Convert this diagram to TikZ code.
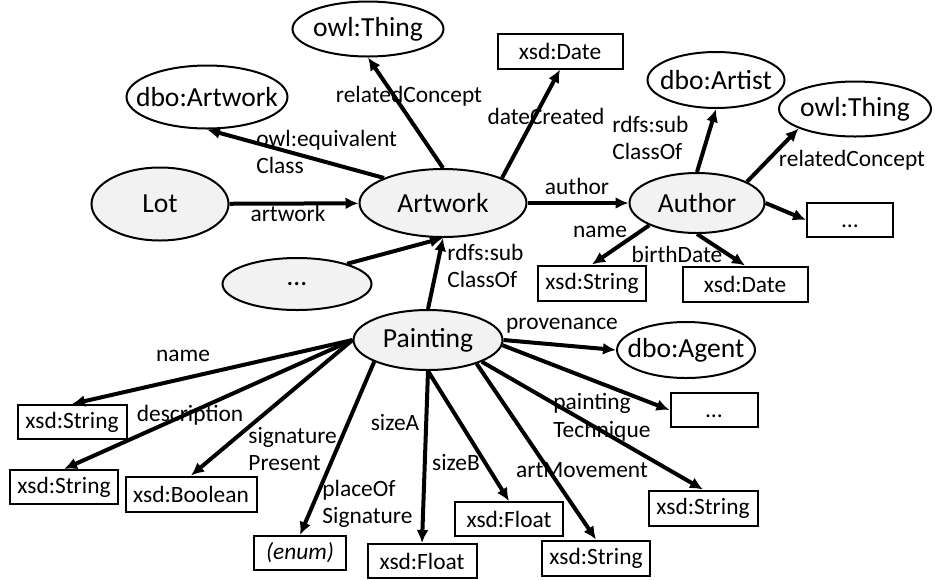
\documentclass[tikz,border=0pt]{standalone}
\usepackage{fontspec}
\setmainfont{Carlito}
\usetikzlibrary{shapes.geometric}
\usetikzlibrary{arrows.meta}
\newcommand{\ovaltext}[1]{\makebox[0pt]{#1}}
\tikzset{%
  cls/.style={ellipse,draw,line width=1pt,fill=gray!10,inner sep=0pt,font=\fontsize{13.8}{16}\selectfont},
  ext/.style={ellipse,draw,line width=1pt,fill=white,inner sep=0pt,font=\fontsize{13.8}{16}\selectfont},
  lit/.style={rectangle,draw,line width=1pt,inner sep=0pt,minimum height=17.5pt,font=\fontsize{11.7}{14}\selectfont},
  prop/.style={inner sep=0pt,align=left,font=\fontsize{11.7}{13.8}\selectfont},
  rel/.style={-{Latex[length=6.5pt,width=6pt]},line width=2pt}
}
\begin{document}
\begin{tikzpicture}[x=0.5pt,y=-0.5pt]%
\useasboundingbox (0,0) rectangle (935,579);%%
%%CLASSES
\node[cls,minimum width=68.5pt,minimum height=36.5pt] (lot) at (160,204) {\ovaltext{Lot}}; %%
\node[cls,minimum width=83.5pt,minimum height=34pt] (artwork) at (443,203) {\ovaltext{Artwork}}; %%
\node[cls,minimum width=67.5pt,minimum height=30pt] (author) at (697,203) {\ovaltext{Author}}; %%
\node[cls,minimum width=74.5pt,minimum height=26pt] (more) at (297,284) {\ovaltext{\dots}}; %%
\node[cls,minimum width=74.5pt,minimum height=30pt] (painting) at (428,340) {\ovaltext{Painting}}; %%
%%EXTERNAL CLASSES
\node[ext,minimum width=75.5pt,minimum height=27.5pt] (thing) at (368,29) {\ovaltext{owl:Thing}}; %%
\node[ext,minimum width=80.5pt,minimum height=31.5pt] (dboartwork) at (207,97) {\ovaltext{dbo:Artwork}}; %%
\node[ext,minimum width=68.5pt,minimum height=28pt] (artist) at (716,80) {\ovaltext{dbo:Artist}}; %%
\node[ext,minimum width=76pt,minimum height=27.5pt] (thingb) at (855,109) {\ovaltext{owl:Thing}}; %%
\node[ext,minimum width=69pt,minimum height=28pt] (agent) at (686,350) {\ovaltext{dbo:Agent}}; %%
%%LITERALS
\node[lit,minimum width=62.5pt] (created) at (560,51) {xsd:Date}; %%
\node[lit,minimum width=43pt,minimum height=17pt] (authmore) at (850,220) {\vphantom{A}\dots}; %%
\node[lit,minimum width=54pt] (authname) at (592,283) {xsd:String}; %%
\node[lit,minimum width=62.5pt] (birth) at (745,284) {xsd:Date}; %%
\node[lit,minimum width=43.5pt,minimum height=17pt] (paintmore) at (714,410) {\vphantom{A}\dots}; %%
\node[lit,minimum width=54.5pt] (technique) at (703,508) {xsd:String}; %%
\node[lit,minimum width=54pt] (movement) at (596,558) {xsd:String}; %%
\node[lit,minimum width=54pt,minimum height=17pt] (sizeb) at (509,519) {xsd:Float}; %%
\node[lit,minimum width=54.5pt,minimum height=17pt] (sizea) at (422,561) {xsd:Float}; %%
\node[lit,minimum width=46pt,minimum height=17pt] (place) at (300,553) {\textit{(enum)}}; %%
\node[lit,minimum width=65.5pt] (sigpres) at (191,494) {xsd:Boolean}; %%
\node[lit,minimum width=54pt,minimum height=17pt] (descr) at (64,487) {xsd:String}; %%
\node[lit,minimum width=54.5pt,minimum height=17pt] (pname) at (72,422) {xsd:String}; %%
%%RELATIONS
\draw[rel] (lot) -- (artwork); %%
\draw[rel] (artwork.157) -- (dboartwork.south); %%
\draw[rel] (artwork.north) -- (thing.south); %%
\draw[rel] (artwork.23) -- (created.south); %%
\draw[rel] (artwork) -- (author); %%
\draw[rel] (author.north) -- (artist.south); %%
\draw[rel] (author.23) -- (thingb.199); %%
\draw[rel] (author.east) -- (authmore.west); %%
\draw[rel] (author.205) -- (authname.north); %%
\draw[rel] (author.south) -- (birth.north); %%
\draw[rel] (more.22) -- (artwork.south); %%
\draw[rel] (painting.north) -- (artwork.south); %%
\draw[rel] (painting.east) -- (agent.west); %%
\draw[rel] (painting.-4) -- (paintmore.west); %%
\draw[rel] (painting.-22) -- (technique.north); %%
\draw[rel] (painting.-26) -- (movement.north); %%
\draw[rel] (painting.south) -- (sizeb.north); %%
\draw[rel] (painting.south) -- (sizea.north); %%
\draw[rel] (painting.202) -- (place.north); %%
\draw[rel] (painting.west) -- (sigpres.north); %%
\draw[rel] (painting.west) -- (descr.north); %%
\draw[rel] (painting.west) -- (pname.north); %%
%%RELATION LABELS
\node[prop] (lartwork) at (288,213) {artwork}; %%
\node[prop,anchor=west] (lequiv) at (256,152) {owl:equivalent\\Class}; %%
\node[prop] (lrel) at (409,96) {relatedConcept}; %%
\node[prop] (ldate) at (546,116) {dateCreated}; %%
\node[prop] (lauthor) at (577,186) {author}; %%
\node[prop,anchor=west] (lsub) at (612,138) {rdfs:sub\\ClassOf}; %%
\node[prop] (lrelb) at (852,160) {relatedConcept}; %%
\node[prop] (lname) at (600,232) {name}; %%
\node[prop] (lbirth) at (677,254) {birthDate}; %%
\node[prop,anchor=west] (lsubb) at (447,266) {rdfs:sub\\ClassOf}; %%
\node[prop] (lprov) at (562,326) {provenance}; %%
\node[prop,anchor=west] (ltech) at (553,417) {painting\\Technique}; %%
\node[prop] (lmove) at (582,470) {artMovement}; %%
\node[prop] (lsizeb) at (456,463) {sizeB}; %%
\node[prop] (lsizea) at (395,423) {sizeA}; %%
\node[prop,anchor=west] (lplace) at (322,504) {placeOf\\Signature}; %%
\node[prop,anchor=west] (lsig) at (248,449) {signature\\Present}; %%
\node[prop] (ldesc) at (190,415) {description}; %%
\node[prop] (lpname) at (183,356) {name}; %%
\end{tikzpicture}
\end{document}
